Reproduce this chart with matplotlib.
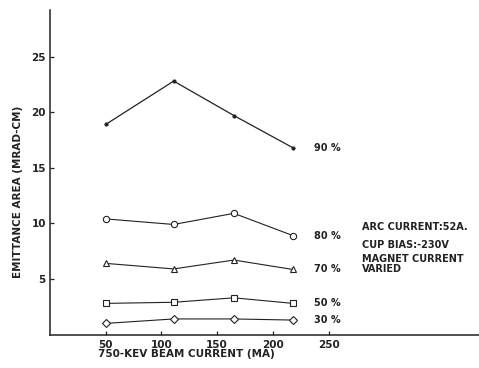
import matplotlib.pyplot as plt

plt.rcParams['font.family'] = ['DejaVu Sans']

# beam current (MA)
current = [50, 111, 165, 218]

# emittance area (MRAD-CM) for each beam fraction
e90 = [18.9, 22.8, 19.7, 16.8]
e80 = [10.4, 9.9, 10.9, 8.9]
e70 = [6.4, 5.9, 6.7, 5.85]
e50 = [2.8, 2.9, 3.3, 2.8]
e30 = [1.0, 1.4, 1.4, 1.3]

labels = ['90 %', '80 %', '70 %', '50 %', '30 %']
markers = ['.', 'o', '^', 's', 'D']

xticks = [50, 100, 150, 200, 250]
yticks = [5, 10, 15, 20, 25]

fig = plt.figure(figsize=(4.79, 3.68), dpi=100)
ax = fig.add_axes([0.1044, 0.091, 0.8956, 0.882])

series = [e90, e80, e70, e50, e30]
for vals, lab, mk in zip(series, labels, markers):
    if mk == '.':
        ax.plot(current, vals, color='#222222', lw=0.9, marker='o', ms=2,
                mfc='#222222', mec='#222222')
    else:
        ms = 4 if mk == 'D' else 4.5
        ax.plot(current, vals, color='#222222', lw=0.8, marker=mk, ms=ms,
                mfc='white', mec='#222222', mew=0.8)
    ax.text(237, vals[-1], lab, fontsize=7, fontweight='bold', color='#222222',
            va='center', ha='left')

# run conditions
kw = dict(fontsize=7, fontweight='bold', color='#222222', ha='left')
ax.text(280, 9.7, 'ARC CURRENT:52A.', va='center', **kw)
ax.text(280, 8.05, 'CUP BIAS:-230V', va='center', **kw)
ax.text(280, 7.25, 'MAGNET CURRENT\nVARIED', va='top', linespacing=1.05, **kw)

ax.set_xlim(0, 385)
ax.set_ylim(0, 29.2)
ax.set_xticks(xticks)
ax.set_yticks(yticks)
ax.tick_params(direction='in', length=3, width=0.9, labelsize=7.5,
               colors='#222222', pad=4)
ax.tick_params(axis='y', pad=3)
for t in ax.get_xticklabels() + ax.get_yticklabels():
    t.set_fontweight('bold')
for s in ['top', 'right']:
    ax.spines[s].set_visible(False)
for s in ['left', 'bottom']:
    ax.spines[s].set_linewidth(1.1)
    ax.spines[s].set_color('#222222')

ax.set_xlabel('750-KEV BEAM CURRENT (MA)', fontsize=7.5, fontweight='bold',
              color='#222222')
ax.xaxis.set_label_coords(0.317, -0.045)
ax.set_ylabel('EMITTANCE AREA (MRAD-CM)', fontsize=7.5, fontweight='bold',
              color='#222222')
ax.yaxis.set_label_coords(-0.062, 0.44)

fig.savefig('out.png', dpi=100)
